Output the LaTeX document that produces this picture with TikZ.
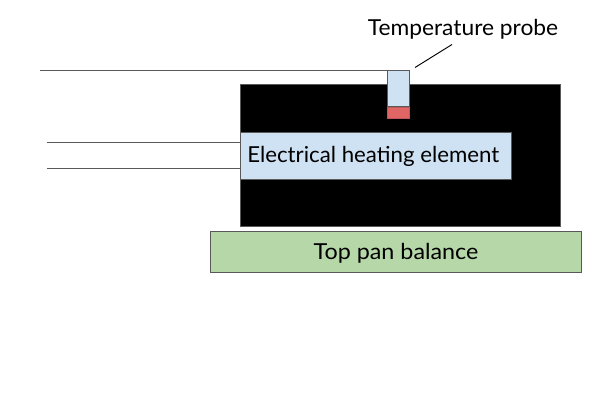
\documentclass[tikz,border=0pt]{standalone}
\usepackage{fontspec}
\setmainfont{Lato}
\newfontfamily\heaterfont[FakeStretch=1.012]{Lato}
\newfontfamily\probefont[FakeStretch=1.035]{Lato}
\newfontfamily\balancefont[FakeStretch=1.06]{Lato}
\definecolor{bluefill}{HTML}{CFE2F3}
\definecolor{greenfill}{HTML}{B6D7A8}
\definecolor{redfill}{HTML}{E06666}
\definecolor{edge}{HTML}{595959}
\tikzset{
  px/.style={x=0.75pt,y=-0.75pt},
  boxed/.style={draw=edge,line width=0.6pt,anchor=north west,inner sep=0pt,outer sep=0pt},
  lbl/.style={font=\fontsize{16.5pt}{18pt}\selectfont,text=black,inner sep=0pt},
  wire/.style={draw=edge,line width=0.6pt}
}
\begin{document}
\begin{tikzpicture}[px]
\useasboundingbox (0,0) rectangle (600,400);
\fill[white] (0,0) rectangle (600,400);
\node[boxed,fill=black,minimum width=240pt,minimum height=106.5pt] (body) at (240.5,84) {};
\node[boxed,fill=bluefill,minimum width=203.5pt,minimum height=35.25pt] (heater) at (240,132) {};
\node[lbl,anchor=west,font=\fontsize{16.5pt}{18pt}\heaterfont] (heatertext) at (247,156) {Electrical heating element};
\node[boxed,fill=greenfill,minimum width=278pt,minimum height=30.75pt] (balance) at (210.5,231.5) {};
\node[lbl,font=\fontsize{16.5pt}{18pt}\balancefont] (balancetext) at (396,253) {Top pan balance};
\node[boxed,fill=bluefill,minimum width=16.5pt,minimum height=27pt] (probe) at (387,70.5) {};
\node[boxed,draw=redfill!85!black,fill=redfill,minimum width=16.5pt,minimum height=8.25pt] (tip) at (387,107) {};
\node[lbl,font=\fontsize{16.5pt}{18pt}\probefont] (probetext) at (463,29.5) {Temperature probe};
\coordinate (w1) at (40,70.5);
\coordinate (w2) at (47,142);
\coordinate (w3) at (47,168);
\coordinate (c1) at (415,67.5);
\coordinate (c2) at (452,44.5);
\draw[wire] (w1) -- (w1 -| probe.west);
\draw[wire] (w2) -- (w2 -| heater.west);
\draw[wire] (w3) -- (w3 -| heater.west);
\draw[black,line width=0.7pt] (c1) -- (c2);
\end{tikzpicture}
\end{document}
